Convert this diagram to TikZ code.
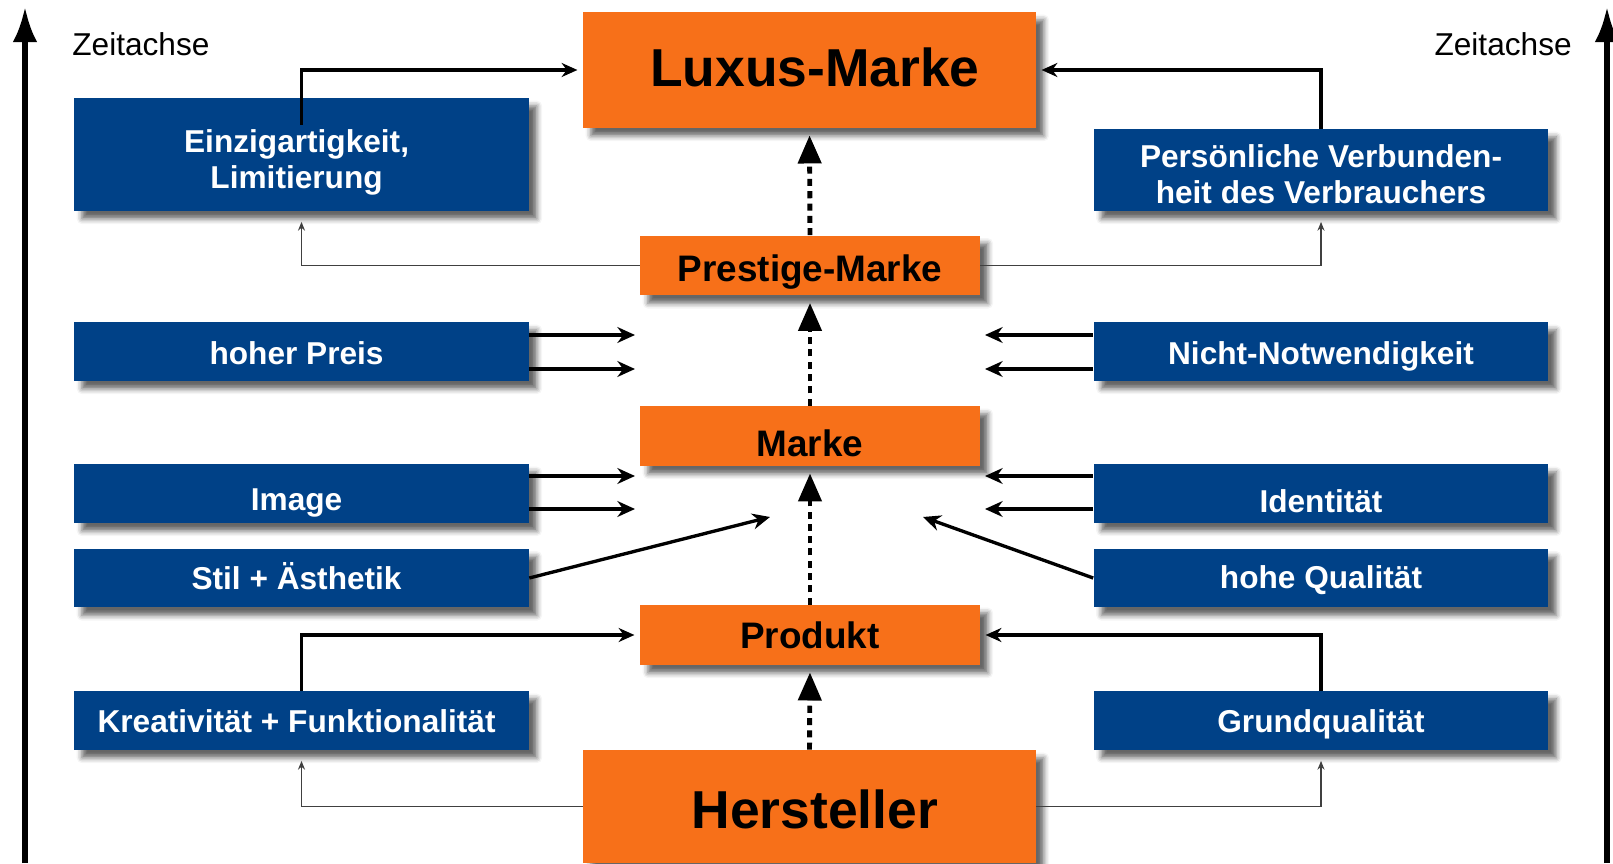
\documentclass[tikz,border=0pt]{standalone}
\usepackage{fontspec}
\setmainfont{Liberation Sans}
\usetikzlibrary{arrows.meta,shadows.blur}
\definecolor{lxorange}{RGB}{247,112,25}
\definecolor{lxblue}{RGB}{0,65,135}
% lower a text inside its box without changing the box
\newcommand{\tdn}[2]{\raisebox{-#1}[\height][\depth]{#2}}
\newcommand{\tlines}[2]{\begin{tabular}{@{}c@{}}#1\\#2\end{tabular}}

\begin{document}
\begin{tikzpicture}[x=0.02cm,y=0.02cm,
  shade/.style={blur shadow={shadow xshift=4.5pt,shadow yshift=-4.5pt,shadow blur radius=3pt,shadow opacity=60}},
  obox/.style={shade,fill=lxorange,inner sep=0pt,align=center,minimum width=6.8cm,minimum height=1.2cm,
    font=\bfseries\fontsize{21}{24}\selectfont},
  obig/.style={minimum width=9.06cm,minimum height=2.32cm,font=\bfseries\fontsize{30.4}{36}\selectfont},
  bbox/.style={shade,fill=lxblue,text=white,inner sep=0pt,align=center,minimum width=9.1cm,minimum height=1.18cm,
    font=\bfseries\fontsize{18}{20.5}\selectfont},
  lbox/.style={bbox,execute at begin node=\hspace{-5.6pt}},
  zeit/.style={inner sep=0pt,font=\fontsize{18}{20}\selectfont},
  axis/.style={line width=3.2pt,-{Latex[length=20pt,width=14pt]}},
  dotarrow/.style={line width=2.8pt,dash pattern=on 4pt off 3pt,shorten >=4pt,-{Triangle[length=16pt,width=13pt]}},
  thickline/.style={line width=1.8pt,shorten >=3pt,-{Stealth[length=9pt,width=8pt]}},
  thinline/.style={line width=1pt,black!75,shorten >=6pt,-{Stealth[length=5pt,width=4pt]}},
  pairarrow/.style={line width=1.9pt,-{Stealth[length=10pt,width=9pt]}}]
\useasboundingbox (0,0) rectangle (1613,863);

% time axes
\coordinate (al0) at (25,0);
\coordinate (al1) at (25,856);
\coordinate (ar0) at (1607,0);
\coordinate (ar1) at (1607,856);
\draw[axis] (al0) -- (al1);
\draw[axis] (ar0) -- (ar1);
\node[zeit,anchor=west] (zl) at (72,819) {Zeitachse};
\node[zeit,anchor=east] (zr) at (1572,819) {Zeitachse};

% orange steps
\node[obox,obig] (lux) at (809.5,793) {\tdn{-1.7pt}{\hspace{6pt}Luxus-Marke}};
\node[obox] (prest) at (810,597.5) {\tdn{3.5pt}{Prestige-Marke}};
\node[obox] (marke) at (810,427) {\tdn{4pt}{Marke}};
\node[obox] (prod) at (810,228) {Produkt};
\node[obox,obig,minimum height=2.26cm] (herst) at (809.5,56.5) {\tdn{1.7pt}{\hspace{6pt}Hersteller}};

% blue factors
\node[lbox,minimum height=2.26cm] (einz) at (301.5,708.5) {\tdn{5pt}{\tlines{Einzigartigkeit,}{Limitierung}}};
\node[bbox,minimum height=1.64cm] (pers) at (1321,693) {\tdn{5pt}{\tlines{Persönliche Verbunden-}{heit des Verbrauchers}}};
\node[lbox] (preis) at (301.5,511.5) {\tdn{1pt}{hoher Preis}};
\node[bbox] (notw) at (1321,511.5) {\tdn{3pt}{Nicht-Notwendigkeit}};
\node[lbox] (image) at (301.5,369.5) {\tdn{5.5pt}{Image}};
\node[bbox] (ident) at (1321,369.5) {\tdn{4.5pt}{Identität}};
\node[lbox] (stil) at (301.5,285) {\tdn{-1pt}{Stil + Ästhetik}};
\node[bbox] (qual) at (1321,285) {\tdn{1pt}{hohe Qualität}};
\node[lbox] (krea) at (301.5,142.5) {\tdn{0.5pt}{Kreativität + Funktionalität}};
\node[bbox] (grund) at (1321,142.5) {\tdn{2pt}{Grundqualität}};

% dotted main path
\draw[dotarrow] (herst.north) -- (prod.south);
\draw[dotarrow] (prod.north) -- (marke.south);
\draw[dotarrow] (marke.north) -- (prest.south);
\draw[dotarrow] (prest.north) -- (lux.south);

% loops round the boxes
\draw[thickline] ([yshift=-0.54cm]einz.north) |- (lux.west);
\draw[thickline] (pers.north) |- (lux.east);
\draw[thinline] (prest.west) -| (einz.south);
\draw[thinline] (prest.east) -| (pers.south);
\draw[thickline] (krea.north) |- (prod.west);
\draw[thickline] (grund.north) |- (prod.east);
\draw[thinline] (herst.west) -| (krea.south);
\draw[thinline] (herst.east) -| (grund.south);

% arrow pairs
\coordinate (pl1) at (635,528);
\coordinate (pl2) at (635,494);
\coordinate (pr1) at (985,528);
\coordinate (pr2) at (985,494);
\coordinate (il1) at (635,387);
\coordinate (il2) at (635,354);
\coordinate (ir1) at (985,387);
\coordinate (ir2) at (985,354);
\draw[pairarrow] (preis.east |- pl1) -- (pl1);
\draw[pairarrow] (preis.east |- pl2) -- (pl2);
\draw[pairarrow] (notw.west |- pr1) -- (pr1);
\draw[pairarrow] (notw.west |- pr2) -- (pr2);
\draw[pairarrow] (image.east |- il1) -- (il1);
\draw[pairarrow] (image.east |- il2) -- (il2);
\draw[pairarrow] (ident.west |- ir1) -- (ir1);
\draw[pairarrow] (ident.west |- ir2) -- (ir2);

% diagonals
\coordinate (sd) at (770,346);
\coordinate (qd) at (923,346);
\draw[pairarrow] (stil.east) -- (sd);
\draw[pairarrow] (qual.west) -- (qd);
\end{tikzpicture}
\end{document}
